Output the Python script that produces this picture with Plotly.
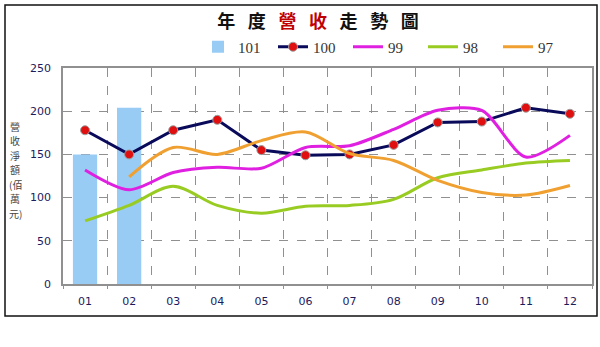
import plotly.graph_objects as go

months = ["01", "02", "03", "04", "05", "06", "07", "08", "09", "10", "11", "12"]
s101 = [150, 204]
s100 = [178, 150, 178, 190, 155, 149, 150, 161, 187, 188, 204, 197]
s99 = [132, 109, 129, 135, 134, 158, 160, 179, 201, 201, 147, 172]
s98 = [73, 91, 113, 91, 82, 90, 91, 98, 123, 132, 140, 143]
s97 = [None, 124, 158, 150, 166, 176, 151, 143, 120, 106, 103, 114]
yticks = [0, 50, 100, 150, 200, 250]
ytitle_chars = ["營", "收", "淨", "額", "(佰", "萬", "元)"]

W, H = 600, 347
L, R, T, B = 63, 8, 68, 63
pw, ph = W - L - R, H - T - B

def px(x):
    return (x - L) / pw

def py(y):
    return (H - B - y) / ph

fig = go.Figure()
fig.add_trace(go.Bar(x=months[:len(s101)], y=s101, name="101",
                     marker=dict(color="#99ccf5", line=dict(width=0)), width=0.55))
fig.add_trace(go.Scatter(x=months, y=s100, name="100", mode="lines+markers",
                         line=dict(color="#0a0a5a", width=3),
                         marker=dict(color="#e01010", size=9, line=dict(color="#a0a0a0", width=1))))
fig.add_trace(go.Scatter(x=months, y=s99, name="99", mode="lines",
                         line=dict(color="#e020e0", width=3, shape="spline", smoothing=0.8)))
fig.add_trace(go.Scatter(x=months, y=s98, name="98", mode="lines",
                         line=dict(color="#99cc22", width=3, shape="spline", smoothing=0.9)))
fig.add_trace(go.Scatter(x=months, y=s97, name="97", mode="lines",
                         line=dict(color="#f0a030", width=3, shape="spline", smoothing=0.9)))

sp = "\u2002\u2009"
title_txt = sp.join(["年", "度", "<span style='color:#c00000'>營", "收</span>", "走", "勢", "圖"])

annotations = []
for i, ch in enumerate(ytitle_chars):
    annotations.append(dict(text=ch, xref="paper", yref="paper", x=px(15), y=py(126 + i * 14.5),
                            xanchor="center", yanchor="middle", showarrow=False,
                            font=dict(family="Noto Sans CJK TC", size=10, color="#444444")))

fig.update_layout(
    width=W, height=H,
    margin=dict(l=L, r=R, t=T, b=B, autoexpand=False),
    paper_bgcolor="white", plot_bgcolor="white",
    title=dict(text=title_txt,
               x=px(318), xanchor="center", xref="paper", y=1 - 22 / H, yanchor="middle",
               font=dict(family="Noto Sans CJK TC", size=18, color="#111111", weight="bold")),
    legend=dict(orientation="h", x=px(198), xanchor="left", y=py(47), yanchor="middle",
                entrywidth=30, entrywidthmode="pixels", itemwidth=30,
                font=dict(family="Liberation Serif", size=15, color="#333333"),
                bgcolor="rgba(0,0,0,0)", itemclick=False, traceorder="normal"),
    xaxis=dict(type="category", categoryorder="array", categoryarray=months,
               tickson="boundaries", showgrid=True, gridcolor="#909090", griddash="dash", gridwidth=1,
               showline=True, linecolor="#909090", linewidth=1.5, mirror=True,
               ticks="outside", ticklen=3, tickcolor="#909090", ticklabelstandoff=6,
               tickfont=dict(family="DejaVu Sans", size=11, color="#1b1b5e"),
               range=[-0.5, 11.5]),
    yaxis=dict(range=[0, 250], tickvals=yticks, showgrid=True, gridcolor="#909090",
               griddash="dash", gridwidth=1, showline=True, linecolor="#909090", linewidth=1.5,
               mirror=True, ticks="", ticklabelstandoff=8,
               tickfont=dict(family="DejaVu Sans", size=11, color="#1b1b5e"), zeroline=False),
    shapes=[dict(type="rect", xref="paper", yref="paper", x0=px(5), x1=px(597), y0=py(316), y1=py(5),
                 line=dict(color="#111111", width=1.5), fillcolor="rgba(0,0,0,0)", layer="below")],
    annotations=annotations,
)

fig.write_html("out.html")
